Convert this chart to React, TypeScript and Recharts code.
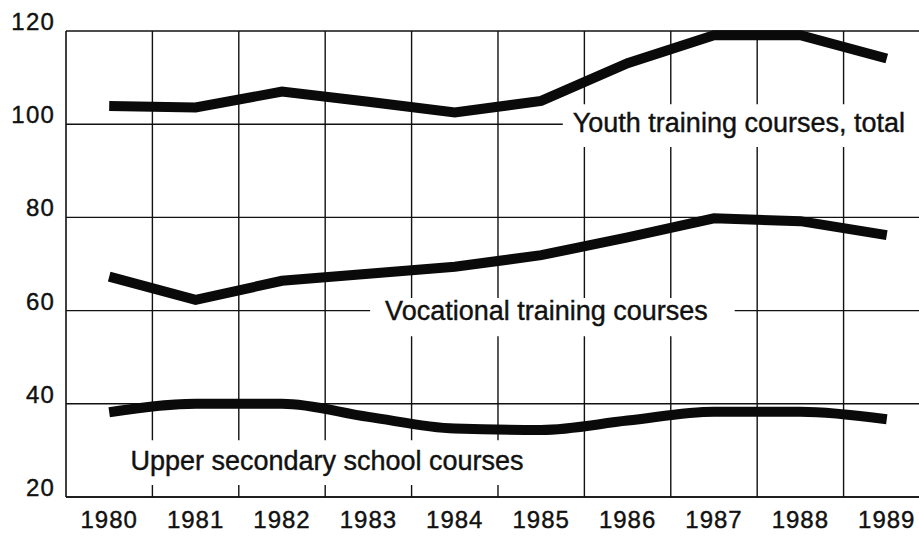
import React from "react";
import {
  LineChart,
  Line,
  XAxis,
  YAxis,
  CartesianGrid,
  ReferenceArea,
} from "recharts";

const years = [1980, 1981, 1982, 1983, 1984, 1985, 1986, 1987, 1988, 1989];
const youthTotal = [103.9, 103.6, 107.0, 104.8, 102.5, 105.0, 113.1, 119.1, 119.1, 114.1];
const vocational = [67.3, 62.3, 66.4, 67.9, 69.4, 71.9, 75.7, 79.8, 79.2, 76.2];
const upperSecondary = [38.2, 40.0, 40.0, 37.2, 34.7, 34.4, 36.4, 38.3, 38.3, 36.7];
const yTicks = [20, 40, 60, 80, 100, 120];
const gridYears = [1980.5, 1981.5, 1982.5, 1983.5, 1984.5, 1985.5, 1986.5, 1987.5, 1988.5];

const seriesLabels = {
  youth: "Youth training courses, total",
  vocational: "Vocational training courses",
  upper: "Upper secondary school courses",
};

const data = years.map((y, i) => ({
  year: y,
  youth: youthTotal[i],
  vocational: vocational[i],
  upper: upperSecondary[i],
}));

const FONT = "'Liberation Sans', Arial, Helvetica, sans-serif";
const INK = "#111";
const X_MIN = 1979.5;
const X_MAX = 1989.373;

const XTick = (props: any) => {
  const { x, y, payload } = props;
  return (
    <text
      x={x}
      y={y + 23}
      textAnchor="middle"
      fontFamily={FONT}
      fontSize={24}
      letterSpacing={1}
      stroke={INK}
      strokeWidth={0.4}
      fill={INK}
    >
      {payload.value}
    </text>
  );
};

const YTick = (props: any) => {
  const { x, y, payload } = props;
  return (
    <text
      x={x - 3}
      y={y - 1}
      textAnchor="end"
      fontFamily={FONT}
      fontSize={24}
      letterSpacing={1.2}
      stroke={INK}
      strokeWidth={0.4}
      fill={INK}
    >
      {payload.value}
    </text>
  );
};

const makeLabel = (text: string, padX: number, baseY: number) => (props: any) => {
  const vb = props.viewBox || {};
  return (
    <text
      x={(vb.x || 0) + padX}
      y={(vb.y || 0) + baseY}
      fontFamily={FONT}
      fontSize={27}
      stroke={INK}
      strokeWidth={0.4}
      fill={INK}
    >
      {text}
    </text>
  );
};

export default function App() {
  return (
    <div style={{ position: "absolute", left: 0, top: 0, background: "#fff" }}>
      <LineChart
        width={919}
        height={537}
        data={data}
        margin={{ top: 31, right: 0, bottom: 0, left: 0 }}
      >
        <CartesianGrid
          stroke={INK}
          strokeWidth={1.4}
          verticalValues={gridYears}
          horizontalValues={yTicks}
        />
        <XAxis
          dataKey="year"
          type="number"
          domain={[X_MIN, X_MAX]}
          allowDataOverflow
          ticks={years}
          interval={0}
          tickLine={false}
          axisLine={{ stroke: INK, strokeWidth: 1.6 }}
          tick={<XTick />}
          height={40}
        />
        <YAxis
          type="number"
          domain={[20, 120]}
          ticks={yTicks}
          interval={0}
          tickLine={false}
          axisLine={{ stroke: INK, strokeWidth: 1.6 }}
          tick={<YTick />}
          width={66}
        />
        <ReferenceArea
          x1={1985.25}
          x2={X_MAX}
          y1={95.1}
          y2={104.3}
          fill="#fff"
          fillOpacity={1}
          stroke="none"
          ifOverflow="visible"
          label={makeLabel(seriesLabels.youth, 10, 28)}
        />
        <ReferenceArea
          x1={1983.02}
          x2={1987.24}
          y1={54.5}
          y2={62.7}
          fill="#fff"
          fillOpacity={1}
          stroke="none"
          ifOverflow="visible"
          label={makeLabel(seriesLabels.vocational, 15, 22)}
        />
        <ReferenceArea
          x1={1980.13}
          x2={1984.99}
          y1={22.6}
          y2={32.2}
          fill="#fff"
          fillOpacity={1}
          stroke="none"
          ifOverflow="visible"
          label={makeLabel(seriesLabels.upper, 10, 30)}
        />
        <Line
          type="linear"
          dataKey="youth"
          stroke="#0a0a0a"
          strokeWidth={10}
          dot={false}
          activeDot={false}
          isAnimationActive={false}
        />
        <Line
          type="linear"
          dataKey="vocational"
          stroke="#0a0a0a"
          strokeWidth={10}
          dot={false}
          activeDot={false}
          isAnimationActive={false}
        />
        <Line
          type="monotone"
          dataKey="upper"
          stroke="#0a0a0a"
          strokeWidth={10}
          dot={false}
          activeDot={false}
          isAnimationActive={false}
        />
      </LineChart>
    </div>
  );
}
